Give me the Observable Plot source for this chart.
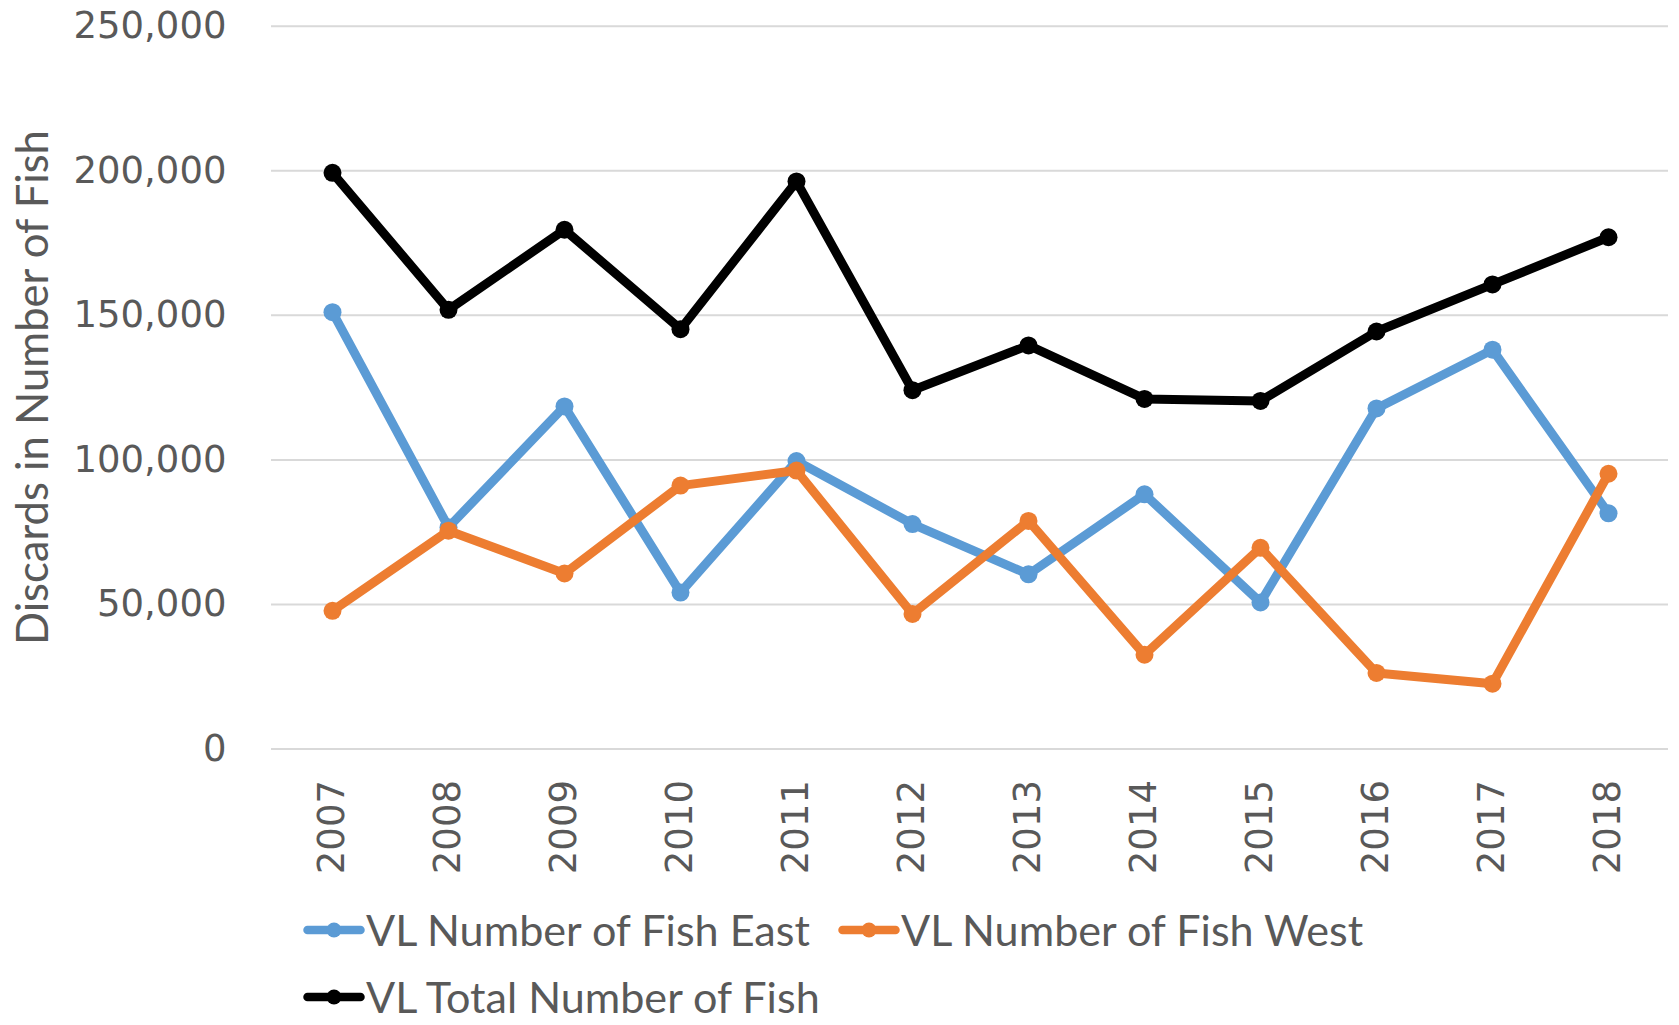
<!DOCTYPE html>
<html>
<head>
<meta charset="utf-8">
<script src="https://cdn.jsdelivr.net/npm/d3@7"></script>
<script src="https://cdn.jsdelivr.net/npm/@observablehq/plot@0.6"></script>
<style>
  html, body { margin: 0; padding: 0; background: #fff; overflow: hidden; }
  #wrap { position: relative; width: 1679px; height: 1025px; }
  .leg { position: absolute; display: flex; align-items: center; color: #595959; white-space: nowrap; line-height: 1; }
  .leg svg { display: block; }
</style>
</head>
<body>
<div id="wrap"></div>
<script>
const years = ["2007","2008","2009","2010","2011","2012","2013","2014","2015","2016","2017","2018"];
const east  = [151100, 76700, 118500, 54100, 99600, 77800, 60400, 88100, 50700, 117800, 138100, 81500];
const west  = [47800, 75500, 60700, 91100, 96300, 46700, 78900, 32600, 69600, 26300, 22600, 95200];
const total = [199300, 151900, 179600, 145200, 196300, 124100, 139600, 121100, 120400, 144400, 160700, 177000];
const seriesNames = ["VL Number of Fish East", "VL Number of Fish West", "VL Total Number of Fish"];
const seriesColors = ["#5B9BD5", "#ED7D31", "#000000"];
const yTicks = [0, 50000, 100000, 150000, 200000, 250000];
const yTitle = "Discards in Number of Fish";

const seriesValues = [east, west, total];
const rows = seriesValues.map((vals, s) => years.map((yr, i) => ({year: yr, value: vals[i], series: seriesNames[s]})));

// Calibri-like font fitted to the reference text widths
const labelFont = "Lato";
function fitSize(text, targetWidth, base) {
  const c = document.createElement("canvas").getContext("2d");
  c.font = `${base}px ${labelFont}`;
  const w = c.measureText(text).width;
  return base * targetWidth / w;
}
const titleSize = fitSize(yTitle, 517, 48);
const legendSize = fitSize(seriesNames[0], 447, 48);

const W = 1679, H = 890;
const marks = [
  Plot.gridY(yTicks, {stroke: "#d9d9d9", strokeOpacity: 1, strokeWidth: 2}),
  Plot.axisY({ticks: yTicks, tickFormat: d3.format(","), tickSize: 0, tickPadding: 45, label: null}),
  Plot.axisX({tickRotate: -90, tickSize: 0, tickPadding: 31, label: null}),
  Plot.text([yTitle], {frameAnchor: "left", textAnchor: "middle", dx: -237, rotate: -90, fontFamily: labelFont, fontSize: titleSize, fill: "#595959"})
];
rows.forEach((data, s) => {
  marks.push(Plot.line(data, {x: "year", y: "value", stroke: seriesColors[s], strokeWidth: 9, strokeLinejoin: "round", strokeLinecap: "round"}));
  marks.push(Plot.dot(data, {x: "year", y: "value", fill: seriesColors[s], r: 9, stroke: "none"}));
});

const chart = Plot.plot({
  width: W, height: H,
  marginLeft: 271, marginRight: 11, marginTop: 25.7, marginBottom: H - 748.5,
  style: {fontFamily: "DejaVu Sans", fontSize: "37px", color: "#595959", background: "#fff"},
  x: {type: "point", domain: years, padding: 0.5},
  y: {domain: [0, 250000]},
  marks
});
const wrap = document.getElementById("wrap");
wrap.appendChild(chart);

// Legend
const legPos = [{x: 303, y: 930}, {x: 838, y: 930}, {x: 303, y: 997}];
seriesNames.forEach((name, s) => {
  const d = document.createElement("div");
  d.className = "leg";
  d.style.left = legPos[s].x + "px";
  d.style.top = (legPos[s].y - 18) + "px";
  d.style.height = "36px";
  d.style.fontFamily = labelFont;
  d.style.fontSize = legendSize + "px";
  const sw = d3.create("svg").attr("width", 62).attr("height", 20);
  sw.append("line").attr("x1", 4.5).attr("x2", 57.5).attr("y1", 10).attr("y2", 10)
    .attr("stroke", seriesColors[s]).attr("stroke-width", 8.5).attr("stroke-linecap", "round");
  sw.append("circle").attr("cx", 31).attr("cy", 10).attr("r", 7.5).attr("fill", seriesColors[s]);
  d.appendChild(sw.node());
  const t = document.createElement("span");
  t.textContent = name;
  t.style.marginLeft = "1px";
  d.appendChild(t);
  wrap.appendChild(d);
});
</script>
</body>
</html>
